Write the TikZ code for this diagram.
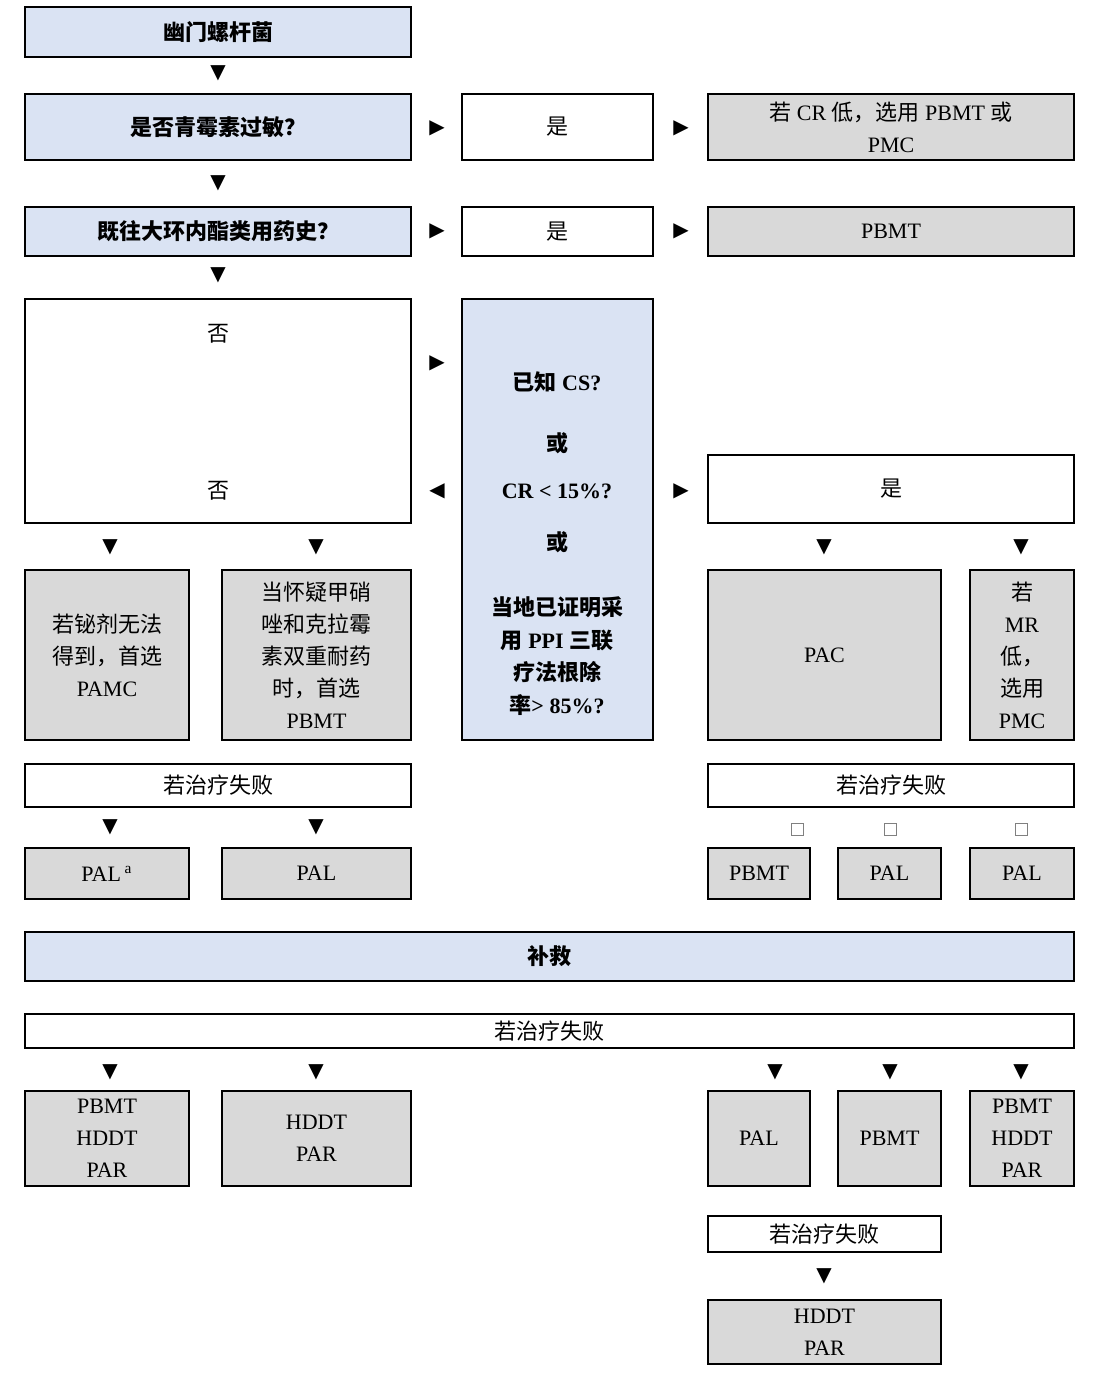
\documentclass[tikz,border=0pt]{standalone}
\usepackage{fontspec}
\setmainfont{Liberation Serif}
\newfontfamily\cjk{Noto Sans CJK SC}
\newfontfamily\sym{DejaVu Sans}
\newcommand\zh[1]{{\cjk #1}}
\newcommand\bx[7]{\node[#1, minimum width={(#5-#3)*0.5pt}, minimum height={(#6-#4)*0.5pt}] (#2) at ({(#3+#5)/2},{(#4+#6)/2}) {#7};}
\begin{document}
\begin{tikzpicture}[x=0.5pt,y=-0.5pt,
  base/.style={draw, line width=0.6pt, inner sep=0pt, align=center, font=\fontsize{11}{16}\selectfont},
  blu/.style={base, fill={rgb,255:red,218;green,227;blue,243}},
  gry/.style={base, fill={rgb,255:red,217;green,217;blue,217}},
  wht/.style={base, fill=white},
  tri/.style={font=\sym\fontsize{10}{10}\selectfont, inner sep=0pt},
  lbl/.style={inner sep=0pt, font=\fontsize{11}{16}\selectfont, align=center}]
\useasboundingbox (0,0) rectangle (1096,1384);
\bx{blu}{h}{25}{7}{411}{57}{\zh{\bfseries 幽门螺杆菌}}
\node[tri] (t1) at (218,73) {▼};
\bx{blu}{q1}{25}{94}{411}{160}{\zh{\bfseries 是否青霉素过敏？}}
\node[tri] (t2) at (437,128) {▶};
\bx{wht}{y1}{462}{94}{653}{160}{\zh{是}}
\node[tri] (t3) at (681,128) {▶};
\bx{gry}{r1}{708}{94}{1074}{160}{\zh{若} CR \zh{低，选用} PBMT \zh{或}\\PMC}
\node[tri] (t4) at (218,183) {▼};
\bx{blu}{q2}{25}{207}{411}{256}{\zh{\bfseries 既往大环内酯类用药史？}}
\node[tri] (t5) at (437,231) {▶};
\bx{wht}{y2}{462}{207}{653}{256}{\zh{是}}
\node[tri] (t6) at (681,231) {▶};
\bx{gry}{r2}{708}{207}{1074}{256}{PBMT}
\node[tri] (t7) at (218,275) {▼};
\bx{wht}{no}{25}{299}{411}{523}{}
\node[lbl] (no1) at (218,334) {\zh{否}};
\node[lbl] (no2) at (218,491) {\zh{否}};
\node[tri] (t8) at (437,363) {▶};
\node[tri] (t9) at (437,491) {◀};
\bx{blu}{cs}{462}{299}{653}{740}{}
\node[lbl,font=\bfseries\fontsize{11}{16}\selectfont] (c1) at (557,382) {\zh{已知} CS?};
\node[lbl,font=\bfseries\fontsize{11}{16}\selectfont] (c2) at (557,443) {\zh{或}};
\node[lbl,font=\bfseries\fontsize{11}{16}\selectfont] (c3) at (557,491) {CR < 15\%?};
\node[lbl,font=\bfseries\fontsize{11}{16}\selectfont] (c4) at (557,542) {\zh{或}};
\node[lbl,font=\bfseries\fontsize{11}{16.3}\selectfont] (c5) at (557,656) {\zh{当地已证明采}\\\zh{用} PPI \zh{三联}\\\zh{疗法根除}\\\zh{率}> 85\%?};
\node[tri] (t10) at (681,491) {▶};
\bx{wht}{y3}{708}{455}{1074}{523}{\zh{是}}
\node[tri] (a1) at (110,547) {▼};
\node[tri] (a2) at (316,547) {▼};
\node[tri] (a3) at (824,547) {▼};
\node[tri] (a4) at (1021,547) {▼};
\bx{gry}{g1}{25}{570}{189}{740}{\zh{若铋剂无法}\\\zh{得到，首选}\\PAMC}
\bx{gry}{g2}{222}{570}{411}{740}{\zh{当怀疑甲硝}\\\zh{唑和克拉霉}\\\zh{素双重耐药}\\\zh{时，首选}\\PBMT}
\bx{gry}{g3}{708}{570}{941}{740}{PAC}
\bx{gry}{g4}{970}{570}{1074}{740}{\zh{若}\\MR\\\zh{低，}\\\zh{选用}\\PMC}
\bx{wht}{f1}{25}{764}{411}{807}{\zh{若治疗失败}}
\bx{wht}{f2}{708}{764}{1074}{807}{\zh{若治疗失败}}
\node[tri] (b1) at (110,827) {▼};
\node[tri] (b2) at (316,827) {▼};
\node[draw=gray, minimum size=6pt, inner sep=0pt] (s1) at (797,829) {};
\node[draw=gray, minimum size=6pt, inner sep=0pt] (s2) at (890,829) {};
\node[draw=gray, minimum size=6pt, inner sep=0pt] (s3) at (1021,829) {};
\bx{gry}{p1}{25}{848}{189}{899}{PAL\,\textsuperscript{a}}
\bx{gry}{p2}{222}{848}{411}{899}{PAL}
\bx{gry}{p3}{708}{848}{810}{899}{PBMT}
\bx{gry}{p4}{838}{848}{941}{899}{PAL}
\bx{gry}{p5}{970}{848}{1074}{899}{PAL}
\bx{blu}{rescue}{25}{932}{1074}{981}{\zh{\bfseries 补救}}
\bx{wht}{f3}{25}{1014}{1074}{1048}{\zh{若治疗失败}}
\node[tri] (c1a) at (110,1072) {▼};
\node[tri] (c2a) at (316,1072) {▼};
\node[tri] (c3a) at (775,1072) {▼};
\node[tri] (c4a) at (890,1072) {▼};
\node[tri] (c5a) at (1021,1072) {▼};
\bx{gry}{e1}{25}{1091}{189}{1186}{PBMT\\HDDT\\PAR}
\bx{gry}{e2}{222}{1091}{411}{1186}{HDDT\\PAR}
\bx{gry}{e3}{708}{1091}{810}{1186}{PAL}
\bx{gry}{e4}{838}{1091}{941}{1186}{PBMT}
\bx{gry}{e5}{970}{1091}{1074}{1186}{PBMT\\HDDT\\PAR}
\bx{wht}{f4}{708}{1216}{941}{1252}{\zh{若治疗失败}}
\node[tri] (d1) at (824,1276) {▼};
\bx{gry}{e6}{708}{1300}{941}{1364}{HDDT\\PAR}
\end{tikzpicture}
\end{document}
